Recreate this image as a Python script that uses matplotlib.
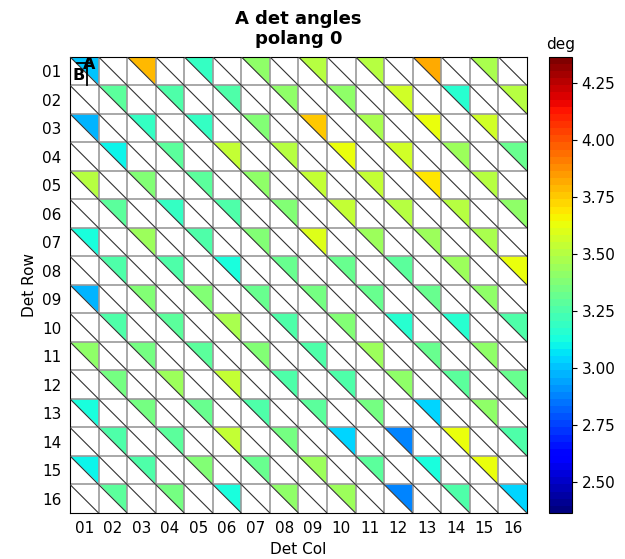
import numpy as np
import matplotlib
matplotlib.use("Agg")
import matplotlib.pyplot as plt
from matplotlib.collections import PolyCollection, LineCollection
from matplotlib.colors import Normalize

row_labels = ["%02d" % i for i in range(1, 17)]
col_labels = ["%02d" % i for i in range(1, 17)]

# values of the coloured (upper right) triangles, checkerboard cells only:
# row r (0 based) holds the cells with (r + c) even
angles = [
    [3.00, 3.80, 3.20, 3.40, 3.50, 3.50, 3.83, 3.47],
    [3.30, 3.24, 3.27, 3.40, 3.42, 3.56, 3.15, 3.50],
    [2.98, 3.18, 3.20, 3.37, 3.74, 3.47, 3.63, 3.56],
    [3.10, 3.30, 3.53, 3.52, 3.63, 3.57, 3.44, 3.32],
    [3.50, 3.37, 3.30, 3.40, 3.53, 3.53, 3.70, 3.50],
    [3.30, 3.20, 3.27, 3.37, 3.54, 3.52, 3.50, 3.40],
    [3.12, 3.43, 3.27, 3.37, 3.60, 3.43, 3.45, 3.47],
    [3.27, 3.27, 3.14, 3.33, 3.32, 3.30, 3.44, 3.63],
    [2.98, 3.37, 3.38, 3.33, 3.34, 3.33, 3.33, 3.40],
    [3.24, 3.29, 3.47, 3.26, 3.38, 3.16, 3.16, 3.26],
    [3.40, 3.35, 3.30, 3.37, 3.26, 3.45, 3.32, 3.42],
    [3.35, 3.43, 3.54, 3.27, 3.27, 3.40, 3.30, 3.33],
    [3.12, 3.34, 3.32, 3.26, 3.29, 3.34, 3.04, 3.42],
    [3.27, 3.29, 3.53, 3.35, 3.04, 2.89, 3.64, 3.27],
    [3.11, 3.26, 3.37, 3.33, 3.43, 3.28, 3.14, 3.64],
    [3.29, 3.35, 3.12, 3.40, 3.44, 2.87, 3.24, 3.04],
]
vmin, vmax = 2.364, 4.364

nrow, ncol = len(row_labels), len(col_labels)

tris = []
vals = []
for r in range(nrow):
    cols = [c for c in range(ncol) if (r + c) % 2 == 0]
    for c, v in zip(cols, angles[r]):
        tris.append([(c, r), (c + 1, r), (c + 1, r + 1)])
        vals.append(v)

fig = plt.figure(figsize=(6.25, 5.59), dpi=100)
ax = fig.add_axes([0.112, 0.0823, 0.731, 0.816])
cax = fig.add_axes([0.878, 0.0823, 0.037, 0.816])

cmap = plt.get_cmap("jet", 64)
pc = PolyCollection(tris, array=np.array(vals), cmap=cmap,
                    norm=Normalize(vmin, vmax), edgecolors="none")
ax.add_collection(pc)

# cell borders
for i in range(1, ncol):
    ax.axvline(i, color="0.6", lw=1.2, zorder=2)
for i in range(1, nrow):
    ax.axhline(i, color="0.6", lw=1.2, zorder=2)

# diagonals
diag = [[(c, r), (c + 1, r + 1)] for r in range(nrow) for c in range(ncol)]
ax.add_collection(LineCollection(diag, colors="0.2", lw=0.8, zorder=3))

# A / B marker in the first cell
ax.plot([0.25, 0.75], [0.22, 0.22], color="k", lw=1.3, zorder=4)
ax.plot([0.6, 0.6], [0.3, 0.98], color="k", lw=1.3, zorder=4)
ax.text(0.68, 0.26, "A", fontsize=11.5, fontweight="bold", ha="center", va="center", zorder=5)
ax.text(0.3, 0.65, "B", fontsize=11.5, fontweight="bold", ha="center", va="center", zorder=5)

ax.set_xlim(0, ncol)
ax.set_ylim(nrow, 0)
ax.set_xticks(np.arange(ncol) + 0.5)
ax.set_xticklabels(col_labels)
ax.set_yticks(np.arange(nrow) + 0.5)
ax.set_yticklabels(row_labels)
ax.tick_params(length=0, pad=6, labelsize=11)
ax.set_xlabel("Det Col", fontsize=11)
ax.set_ylabel("Det Row", fontsize=11)
ax.set_title("A det angles\npolang 0", fontsize=13, fontweight="bold", pad=9)

cb = fig.colorbar(pc, cax=cax)
cb.set_ticks([2.5, 2.75, 3.0, 3.25, 3.5, 3.75, 4.0, 4.25])
cb.ax.tick_params(labelsize=11)
cax.set_title("deg", fontsize=11)

fig.savefig("out.png", dpi=100)
